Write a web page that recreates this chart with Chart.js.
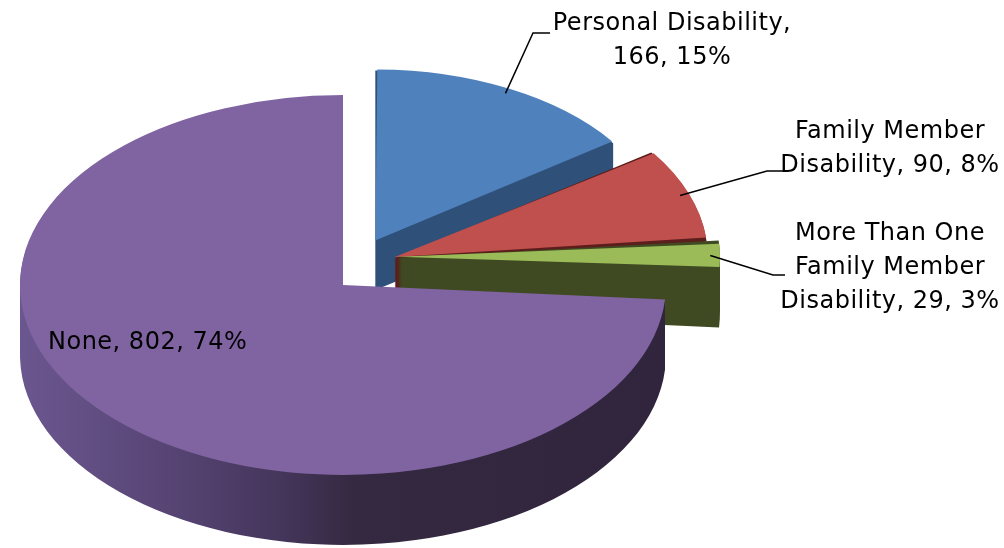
<!DOCTYPE html>
<html>
<head>
<meta charset="utf-8">
<title>Disability</title>
<script src="https://cdn.jsdelivr.net/npm/chart.js@4.4.0/dist/chart.umd.min.js"></script>
<style>
    html, body { margin: 0; padding: 0; background: #fff; }
    #wrap { width: 1004px; height: 548px; }
</style>
</head>
<body>
<div id="wrap"><canvas id="disability-chart" width="1004" height="548"></canvas></div>
<script>
const categories = ['Personal Disability', 'Family Member Disability', 'More Than One Family Member Disability', 'None'];
const counts = [166, 90, 29, 802];

const topColors = ['#4f81bd', '#c0504d', '#9bbb59', '#8064a2'];
const sideColors = ['#2f5079', '#5c1e1c', '#3f4a23', null];
const explode = [280, 220, 216, 0];      // arc offset (library moves the slice by offset / 4)
const sizeFactor = [0.9, 0.97, 1, 1];    // fake perspective: slices at the back look smaller
const lift = [8, 17, 28, 0];             // and sit a bit higher, screen px
const depthFactor = [0.75, 0.8, 0.85, 1.06];

const RADIUS = 323;
const TILT = 0.588;      // vertical squash of the pie
const CENTER_Y = 285;    // where the pie centre ends up on screen
const DEPTH = 66;        // thickness of the pie, screen px

// label layout: centre x, first line y, wrap width, align, leader anchor
const labelLayout = [
    { x: 672, y: 24, wrap: 260, align: 'center', leader: [[550, 33], [533, 33]] },
    { x: 890, y: 132, wrap: 236, align: 'center', leader: [[783, 171], [767, 171]] },
    { x: 890, y: 234, wrap: 236, align: 'center', leader: [[785, 275], [773, 275]] },
    { x: 48, y: 343, wrap: 400, align: 'left', leader: null }
];

const total = counts.reduce((a, b) => a + b, 0);

function sliceShape(arc) {
    const o = (arc.options.offset || 0) / 4;
    const fix = 1 - Math.sin(Math.min(Math.PI, arc.circumference));
    const mid = (arc.startAngle + arc.endAngle) / 2;
    return {
        x: arc.x + Math.cos(mid) * o,
        y: arc.y + Math.sin(mid) * o,
        r: arc.outerRadius + o * fix,
        start: arc.startAngle,
        end: arc.endAngle,
        mid: mid
    };
}

function tilt(ctx, cx, cy) {
    ctx.translate(cx, CENTER_Y);
    ctx.scale(1, TILT);
    ctx.translate(-cx, -cy);
}

function wrapText(ctx, text, maxWidth) {
    const words = text.split(' ');
    const lines = [];
    let line = '';
    words.forEach(w => {
        const test = line ? line + ' ' + w : w;
        if (line && ctx.measureText(test).width > maxWidth) {
            lines.push(line);
            line = w;
        } else {
            line = test;
        }
    });
    if (line) lines.push(line);
    return lines;
}

const pie3d = {
    id: 'pie3d',
    beforeDatasetsDraw(chart) {
        const ctx = chart.ctx;
        const meta = chart.getDatasetMeta(0);
        const R = meta.controller.outerRadius;
        const cx = (chart.chartArea.left + chart.chartArea.right) / 2;
        const cy = (chart.chartArea.top + chart.chartArea.bottom) / 2;

        // keep exploded slices at the wanted size, move the back ones up a little
        meta.data.forEach((arc, i) => {
            const o = (arc.options.offset || 0) / 4;
            const fix = 1 - Math.sin(Math.min(Math.PI, arc.circumference));
            arc.outerRadius = R * sizeFactor[i] - o * fix;
            arc.y = cy - lift[i] / TILT;
        });

        ctx.save();
        tilt(ctx, cx, cy);

        // side walls, back to front (same order as the data)
        meta.data.forEach((arc, i) => {
            const s = sliceShape(arc);
            let fill = sideColors[i];
            if (!fill) {
                const g = ctx.createLinearGradient(cx - R, 0, cx + R, 0);
                g.addColorStop(0, '#6b578f');
                g.addColorStop(0.2, '#5a4778');
                g.addColorStop(0.4, '#45365c');
                g.addColorStop(0.52, '#342940');
                g.addColorStop(1, '#30253c');
                fill = g;
            }
            ctx.fillStyle = fill;
            ctx.beginPath();
            for (let t = DEPTH * depthFactor[i]; t >= 1; t -= 0.5) {
                const dy = t / TILT;
                ctx.moveTo(s.x, s.y + dy);
                ctx.arc(s.x, s.y + dy, s.r, s.start, s.end);
                ctx.closePath();
            }
            ctx.fill();
        });
    },
    afterDatasetsDraw(chart) {
        chart.ctx.restore();
    },
    afterDraw(chart) {
        const ctx = chart.ctx;
        const meta = chart.getDatasetMeta(0);
        const cy = (chart.chartArea.top + chart.chartArea.bottom) / 2;

        ctx.save();
        ctx.font = '24px "DejaVu Sans"';
        ctx.letterSpacing = '0.5px';
        ctx.fillStyle = '#000';
        ctx.textBaseline = 'middle';
        ctx.strokeStyle = '#000';
        ctx.lineWidth = 1.5;

        meta.data.forEach((arc, i) => {
            const lay = labelLayout[i];
            const pct = Math.round(counts[i] / total * 100);
            const text = categories[i] + ', ' + counts[i] + ', ' + pct + '%';
            const lines = wrapText(ctx, text, lay.wrap);
            ctx.textAlign = lay.align;
            lines.forEach((ln, j) => ctx.fillText(ln, lay.x, lay.y + j * 34));

            if (lay.leader) {
                const s = sliceShape(arc);
                const px = s.x + Math.cos(s.mid) * s.r * 0.97;
                const py = CENTER_Y + (s.y + Math.sin(s.mid) * s.r * 0.97 - cy) * TILT;
                ctx.beginPath();
                ctx.moveTo(lay.leader[0][0], lay.leader[0][1]);
                ctx.lineTo(lay.leader[1][0], lay.leader[1][1]);
                ctx.lineTo(px, py);
                ctx.stroke();
            }
        });
        ctx.restore();
    }
};

const ctx = document.getElementById('disability-chart').getContext('2d');
const disabilityChart = new Chart(ctx, {
    type: 'pie',
    data: {
        labels: categories,
        datasets: [{
            data: counts,
            backgroundColor: topColors,
            borderWidth: 0,
            offset: explode,
            radius: RADIUS,
            clip: false
        }]
    },
    options: {
        responsive: false,
        animation: false,
        events: [],
        layout: { padding: { left: 0, right: 318, top: 0, bottom: 0 } },
        plugins: {
            legend: { display: false },
            tooltip: { enabled: false }
        }
    },
    plugins: [pie3d]
});
</script>
</body>
</html>
